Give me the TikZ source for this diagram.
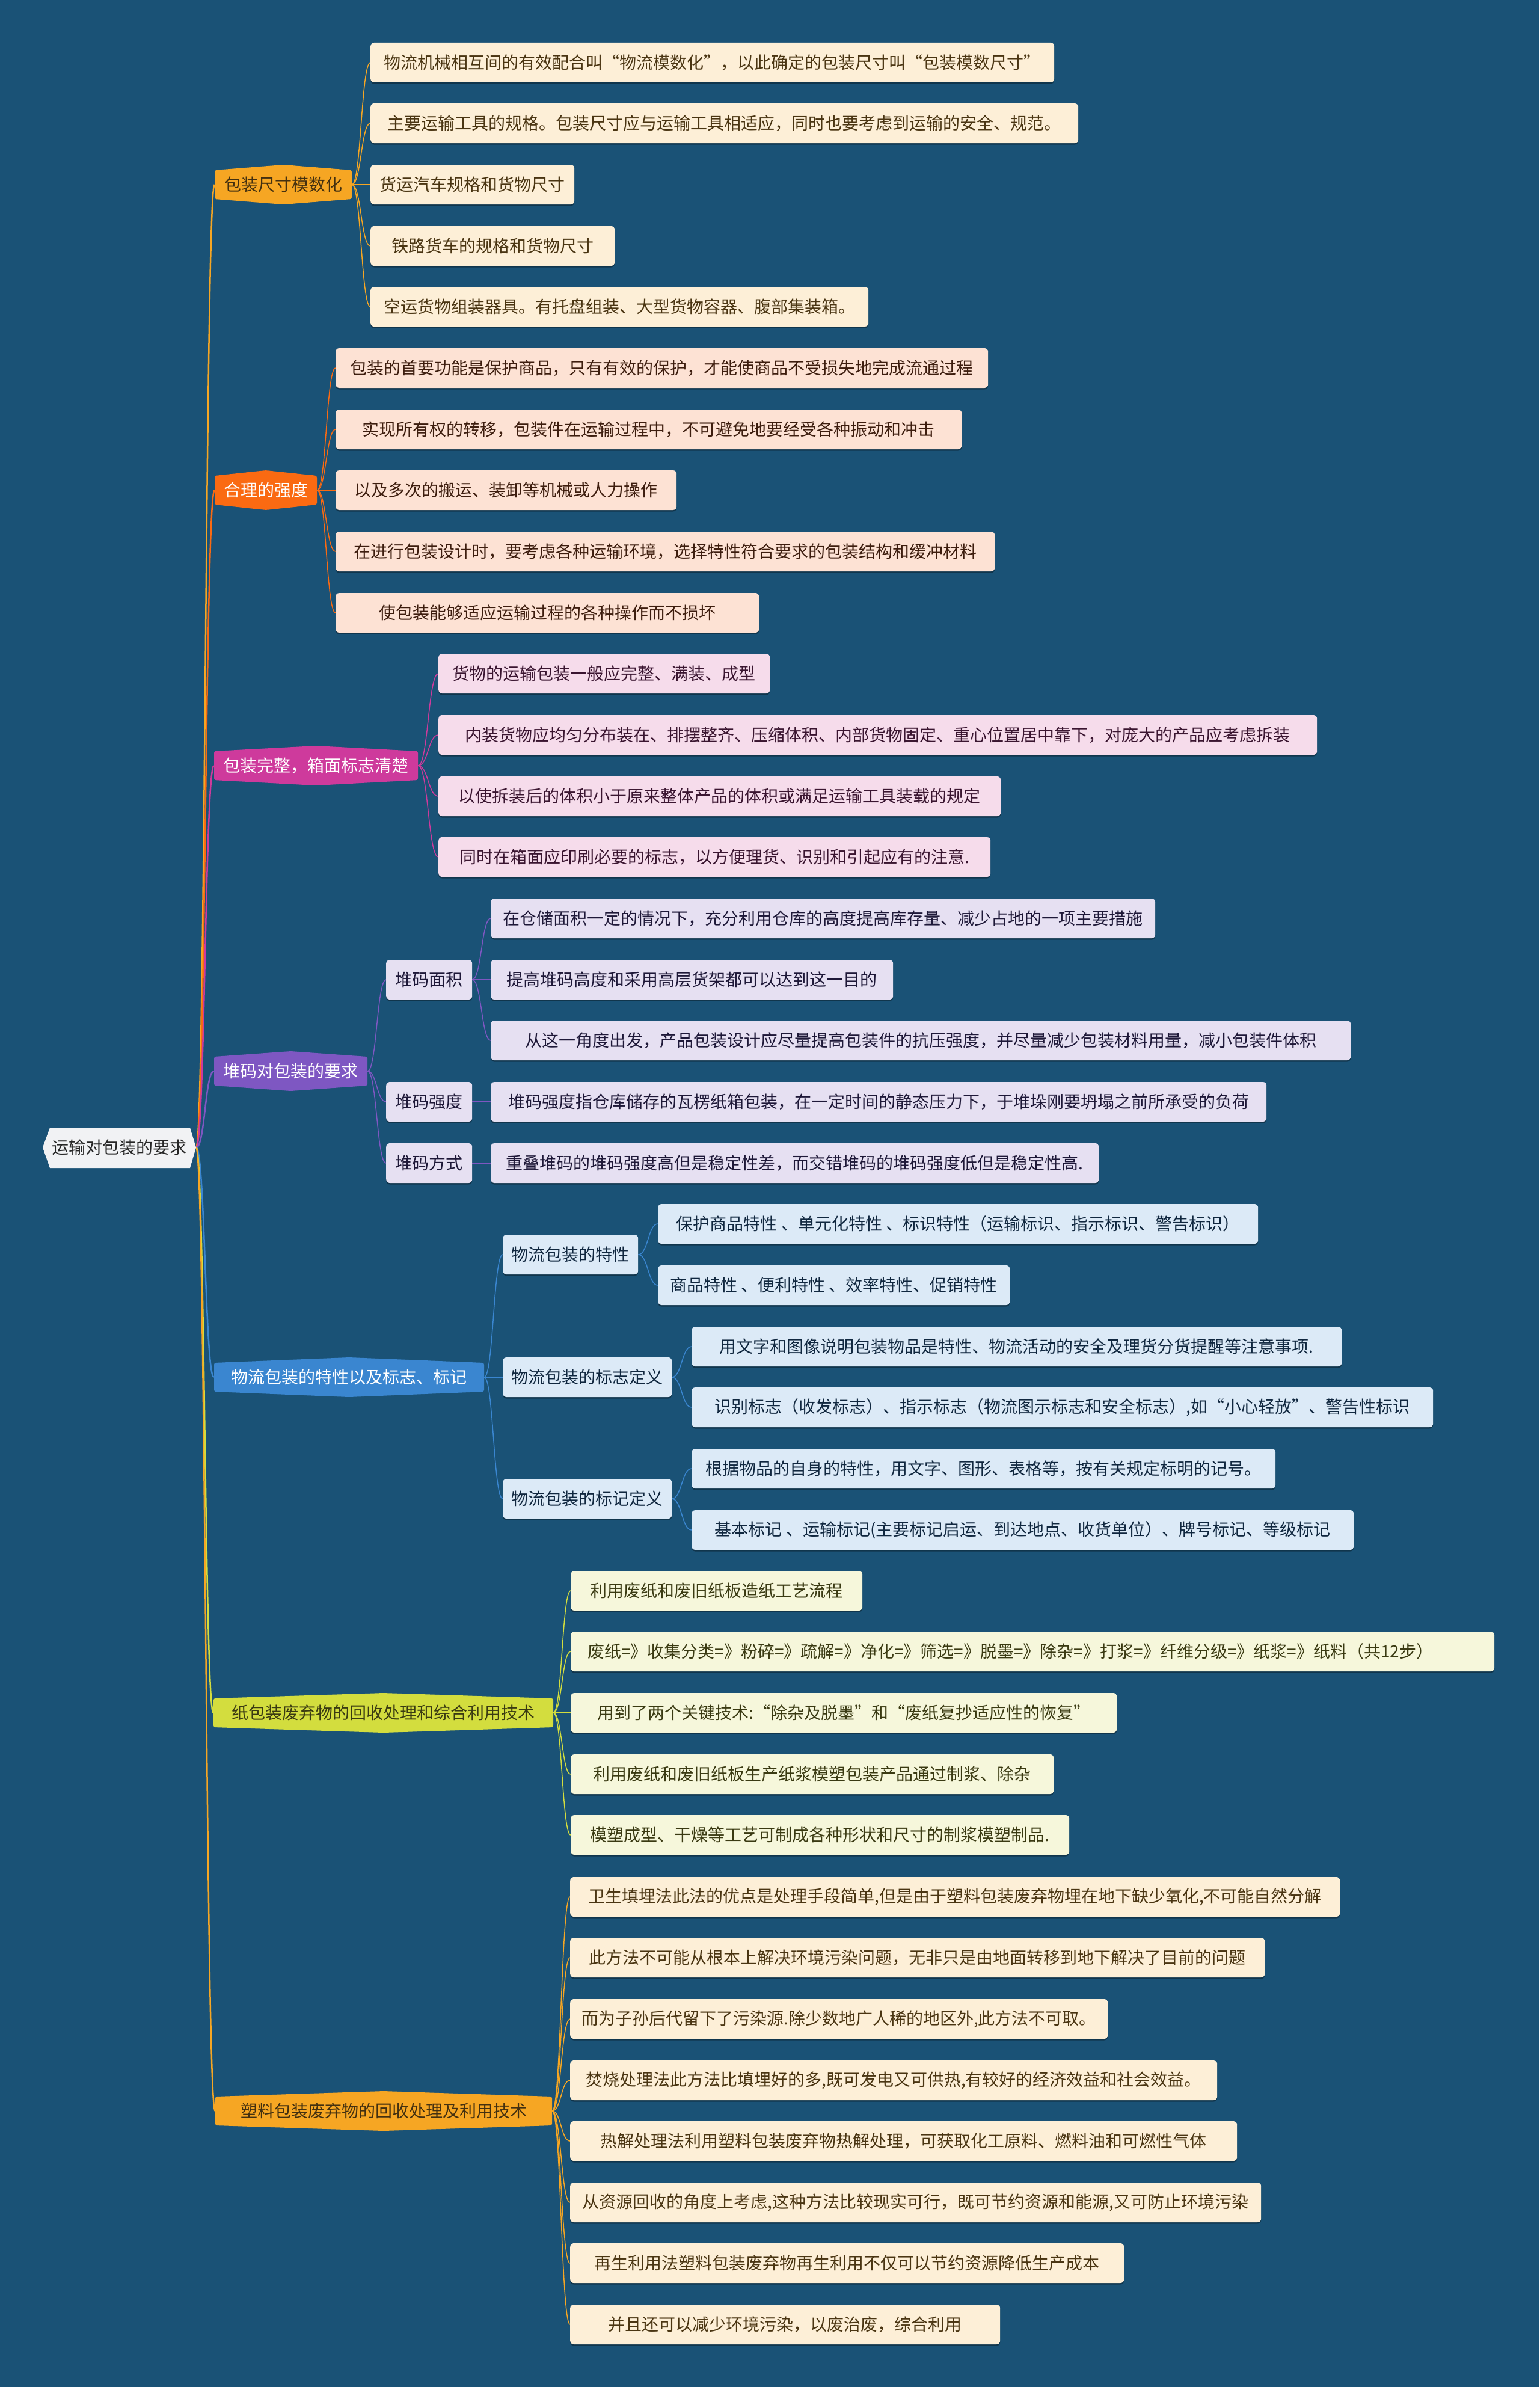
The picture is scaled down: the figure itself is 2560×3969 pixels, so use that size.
\documentclass[tikz,border=0pt]{standalone}
\usepackage{fontspec}
\newfontfamily\cjk{Noto Sans CJK SC}
\usetikzlibrary{backgrounds,calc,shadows}
\definecolor{bg}{HTML}{1A5276}
\definecolor{rootf}{HTML}{F1F2F4}
\definecolor{ca}{HTML}{F6A623}
\definecolor{cb}{HTML}{FA6A12}
\definecolor{cc}{HTML}{CE3A9C}
\definecolor{cd}{HTML}{7E57C2}
\definecolor{ce}{HTML}{3A86D0}
\definecolor{cf}{HTML}{D3DD3E}
\definecolor{la}{HTML}{FDEFD7}
\definecolor{lb}{HTML}{FDE2D4}
\definecolor{lc}{HTML}{F6DCEB}
\definecolor{ld}{HTML}{E6E0F2}
\definecolor{le}{HTML}{DCEAF7}
\definecolor{lf}{HTML}{F6F7DB}
\definecolor{ta}{HTML}{4A3512}
\definecolor{tb}{HTML}{3D1D0E}
\definecolor{tc}{HTML}{3A1530}
\definecolor{td}{HTML}{1E1838}
\definecolor{te}{HTML}{10273F}
\definecolor{tf}{HTML}{3A3A12}
\tikzset{
  txt/.style={font=\cjk\fontsize{28}{34}\selectfont},
  leafbox/.style={txt, draw=none, rounded corners=6pt, minimum height=66pt, inner sep=0pt, anchor=west, align=center,
    drop shadow={shadow xshift=0pt, shadow yshift=-2.5pt, opacity=0.35, fill=black}},
  brtext/.style={txt, draw=none, minimum height=48pt, inner sep=0pt, align=center},
  trunk/.style={line width=2.5pt},
  twig/.style={line width=1.5pt}
}
\newcommand\branchnode[7]{%
  \fill[#5, rounded corners=3pt] ({#2-#4/2},{#3-24}) -- (#2,{#3-33}) -- ({#2+#4/2},{#3-24}) -- ({#2+#4/2},{#3+24}) -- (#2,{#3+33}) -- ({#2-#4/2},{#3+24}) -- cycle;
  \node[brtext, text=#6, minimum width=#4pt] (#1) at (#2,#3) {#7};}
\newcommand\leafnode[6]{% name, x, y, w, style suffix letter, text
  \node[leafbox, fill=l#5, text=t#5, minimum width=#4pt] (#1) at (#2,#3) {#6};}
\newcommand\conn[3]{\draw[#1] let \p1=(#2), \p2=(#3) in (\p1) .. controls ({(\x1+\x2)/2},\y1) and ({(\x1+\x2)/2},\y2) .. (\p2);}
\begin{document}
\begin{tikzpicture}[x=1pt,y=-1pt]
\useasboundingbox (0,0) rectangle (2560,3969);
\begin{scope}[on background layer]
\fill[bg] (0,0) rectangle (2560,3969);
\end{scope}

% root
\fill[rootf] (71,1908) -- (83,1875) -- (316,1875) -- (326,1908) -- (316,1942) -- (83,1942) -- cycle;
\node[brtext, text=black!85, minimum width=255pt] (root) at (198.5,1908) {运输对包装的要求};

% branches
\branchnode{b1}{471}{307}{228}{ca}{ta!90!black}{包装尺寸模数化}
\branchnode{b2}{442}{815}{170}{cb}{white}{合理的强度}
\branchnode{b3}{525.5}{1273}{339}{cc}{white}{包装完整，箱面标志清楚}
\branchnode{b4}{483.5}{1781}{255}{cd}{white}{堆码对包装的要求}
\branchnode{b5}{580.5}{2290}{449}{ce}{white}{物流包装的特性以及标志、标记}
\branchnode{b6}{637.5}{2848}{565}{cf}{tf}{纸包装废弃物的回收处理和综合利用技术}
\branchnode{b7}{638}{3510}{560}{ca}{ta!90!black}{塑料包装废弃物的回收处理及利用技术}

% branch 1 leaves
\leafnode{a1}{616}{104}{1137}{a}{物流机械相互间的有效配合叫“物流模数化”，以此确定的包装尺寸叫“包装模数尺寸”}
\leafnode{a2}{616}{205}{1177}{a}{主要运输工具的规格。包装尺寸应与运输工具相适应，同时也要考虑到运输的安全、规范。}
\leafnode{a3}{616}{307}{339}{a}{货运汽车规格和货物尺寸}
\leafnode{a4}{616}{409}{406}{a}{铁路货车的规格和货物尺寸}
\leafnode{a5}{616}{510}{828}{a}{空运货物组装器具。有托盘组装、大型货物容器、腹部集装箱。}

% branch 2 leaves
\leafnode{e1}{558}{612}{1085}{b}{包装的首要功能是保护商品，只有有效的保护，才能使商品不受损失地完成流通过程}
\leafnode{e2}{558}{714}{1041}{b}{实现所有权的转移，包装件在运输过程中，不可避免地要经受各种振动和冲击}
\leafnode{e3}{558}{815}{567}{b}{以及多次的搬运、装卸等机械或人力操作}
\leafnode{e4}{558}{917}{1096}{b}{在进行包装设计时，要考虑各种运输环境，选择特性符合要求的包装结构和缓冲材料}
\leafnode{e5}{558}{1019}{704}{b}{使包装能够适应运输过程的各种操作而不损坏}

% branch 3 leaves
\leafnode{g1}{729}{1120}{551}{c}{货物的运输包装一般应完整、满装、成型}
\leafnode{g2}{729}{1222}{1461}{c}{内装货物应均匀分布装在、排摆整齐、压缩体积、内部货物固定、重心位置居中靠下，对庞大的产品应考虑拆装}
\leafnode{g3}{729}{1324}{935}{c}{以使拆装后的体积小于原来整体产品的体积或满足运输工具装载的规定}
\leafnode{g4}{729}{1425}{918}{c}{同时在箱面应印刷必要的标志，以方便理货、识别和引起应有的注意.}

% branch 4 subs and leaves
\leafnode{s1}{642}{1629}{143}{d}{堆码面积}
\leafnode{s2}{642}{1832}{143}{d}{堆码强度}
\leafnode{s3}{642}{1934}{143}{d}{堆码方式}
\leafnode{h1}{816}{1527}{1105}{d}{在仓储面积一定的情况下，充分利用仓库的高度提高库存量、减少占地的一项主要措施}
\leafnode{h2}{816}{1629}{669}{d}{提高堆码高度和采用高层货架都可以达到这一目的}
\leafnode{h3}{816}{1730}{1430}{d}{从这一角度出发，产品包装设计应尽量提高包装件的抗压强度，并尽量减少包装材料用量，减小包装件体积}
\leafnode{h4}{816}{1832}{1290}{d}{堆码强度指仓库储存的瓦楞纸箱包装，在一定时间的静态压力下，于堆垛刚要坍塌之前所承受的负荷}
\leafnode{h5}{816}{1934}{1011}{d}{重叠堆码的堆码强度高但是稳定性差，而交错堆码的堆码强度低但是稳定性高.}

% branch 5 subs and leaves
\leafnode{u1}{836}{2086}{225}{e}{物流包装的特性}
\leafnode{u2}{836}{2290}{281}{e}{物流包装的标志定义}
\leafnode{u3}{836}{2492}{281}{e}{物流包装的标记定义}
\leafnode{k1}{1094}{2035}{998}{e}{保护商品特性 、单元化特性 、标识特性（运输标识、指示标识、警告标识）}
\leafnode{k2}{1094}{2137}{585}{e}{商品特性 、便利特性 、效率特性、促销特性}
\leafnode{k3}{1150}{2239}{1081}{e}{用文字和图像说明包装物品是特性、物流活动的安全及理货分货提醒等注意事项.}
\leafnode{k4}{1150}{2340}{1233}{e}{识别标志（收发标志）、指示标志（物流图示标志和安全标志）,如“小心轻放”、警告性标识}
\leafnode{k5}{1150}{2442}{971}{e}{根据物品的自身的特性，用文字、图形、表格等，按有关规定标明的记号。}
\leafnode{k6}{1150}{2544}{1101}{e}{基本标记 、运输标记(主要标记启运、到达地点、收货单位）、牌号标记、等级标记}

% branch 6 leaves
\leafnode{m1}{949}{2645}{485}{f}{利用废纸和废旧纸板造纸工艺流程}
\node[leafbox, fill=lf, text=tf, minimum width=1536pt, text width=1480pt, align=left] (m2) at (949,2746) {废纸=》收集分类=》粉碎=》疏解=》净化=》筛选=》脱墨=》除杂=》打浆=》纤维分级=》纸浆=》纸料（共12步）};
\leafnode{m3}{949}{2848}{908}{f}{用到了两个关键技术:“除杂及脱墨”和“废纸复抄适应性的恢复”}
\leafnode{m4}{949}{2950}{803}{f}{利用废纸和废旧纸板生产纸浆模塑包装产品通过制浆、除杂}
\leafnode{m5}{949}{3051}{829}{f}{模塑成型、干燥等工艺可制成各种形状和尺寸的制浆模塑制品.}

% branch 7 leaves
\leafnode{p1}{948}{3154}{1280}{a}{卫生填埋法此法的优点是处理手段简单,但是由于塑料包装废弃物埋在地下缺少氧化,不可能自然分解}
\leafnode{p2}{948}{3255}{1155}{a}{此方法不可能从根本上解决环境污染问题，无非只是由地面转移到地下解决了目前的问题}
\leafnode{p3}{948}{3357}{894}{a}{而为子孙后代留下了污染源.除少数地广人稀的地区外,此方法不可取。}
\leafnode{p4}{948}{3459}{1076}{a}{焚烧处理法此方法比填埋好的多,既可发电又可供热,有较好的经济效益和社会效益。}
\leafnode{p5}{948}{3560}{1109}{a}{热解处理法利用塑料包装废弃物热解处理，可获取化工原料、燃料油和可燃性气体}
\leafnode{p6}{948}{3662}{1149}{a}{从资源回收的角度上考虑,这种方法比较现实可行，既可节约资源和能源,又可防止环境污染}
\leafnode{p7}{948}{3763}{921}{a}{再生利用法塑料包装废弃物再生利用不仅可以节约资源降低生产成本}
\leafnode{p8}{948}{3865}{715}{a}{并且还可以减少环境污染，以废治废，综合利用}

\begin{scope}[on background layer]
\conn{trunk,ca}{root.east}{b1.west}
\conn{trunk,cb}{root.east}{b2.west}
\conn{trunk,cc}{root.east}{b3.west}
\conn{trunk,cd}{root.east}{b4.west}
\conn{trunk,ce}{root.east}{b5.west}
\conn{trunk,cf}{root.east}{b6.west}
\conn{trunk,ca}{root.east}{b7.west}
\foreach \nd in {a1,a2,a3,a4,a5} {\conn{twig,ca}{b1.east}{\nd.west}}
\foreach \nd in {e1,e2,e3,e4,e5} {\conn{twig,cb}{b2.east}{\nd.west}}
\foreach \nd in {g1,g2,g3,g4} {\conn{twig,cc}{b3.east}{\nd.west}}
\foreach \nd in {s1,s2,s3} {\conn{twig,cd}{b4.east}{\nd.west}}
\foreach \nd in {h1,h2,h3} {\conn{twig,cd}{s1.east}{\nd.west}}
\conn{twig,cd}{s2.east}{h4.west}
\conn{twig,cd}{s3.east}{h5.west}
\foreach \nd in {u1,u2,u3} {\conn{twig,ce}{b5.east}{\nd.west}}
\foreach \nd in {k1,k2} {\conn{twig,ce}{u1.east}{\nd.west}}
\foreach \nd in {k3,k4} {\conn{twig,ce}{u2.east}{\nd.west}}
\foreach \nd in {k5,k6} {\conn{twig,ce}{u3.east}{\nd.west}}
\foreach \nd in {m1,m2,m3,m4,m5} {\conn{twig,cf}{b6.east}{\nd.west}}
\foreach \nd in {p1,p2,p3,p4,p5,p6,p7,p8} {\conn{twig,ca}{b7.east}{\nd.west}}
\end{scope}
\end{tikzpicture}
\end{document}
